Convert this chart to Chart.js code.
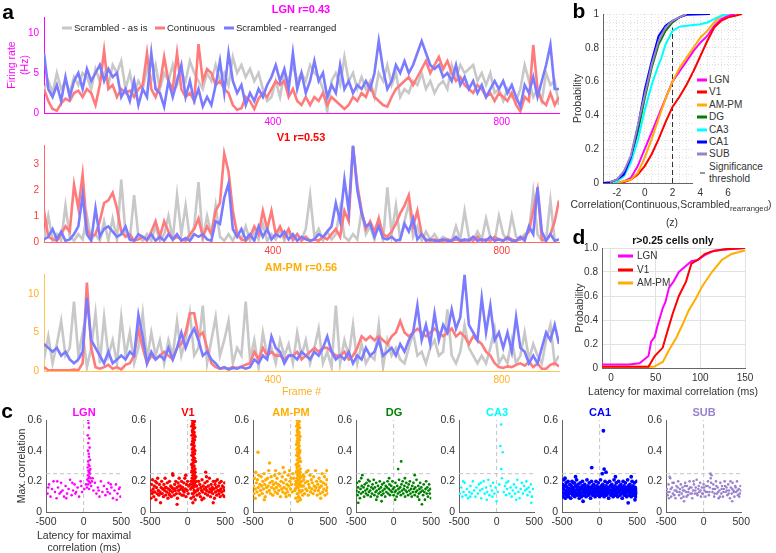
<!DOCTYPE html>
<html>
<head>
<meta charset="utf-8">
<script src="https://cdn.jsdelivr.net/npm/chart.js@4.4.1/dist/chart.umd.min.js"></script>
<style>
body { margin: 0; background: #fff; }
#fig { position: relative; width: 776px; height: 553px; overflow: hidden; background: #fff;
  font-family: "Liberation Sans", Arial, sans-serif; color: #333; }
#fig canvas { position: absolute; }
.t { position: absolute; white-space: nowrap; line-height: 1; transform: translate(-50%, -50%); }
.tl { position: absolute; white-space: nowrap; line-height: 1; transform: translate(0, -50%); }
.sw { position: absolute; transform: translate(0, -50%); }
sub { font-size: 0.75em; vertical-align: -0.45em; line-height: 0; }
</style>
</head>
<body>
<div id="fig"></div>
<script>
// ---- panel a : firing rate traces (one value every frameStep frames) ----
const frameStep = 7.5
const frameMax = 900
const frameTicks = [400, 800]
const traceNames = ['Scrambled - as is', 'Continuous', 'Scrambled - rearranged']

const lgnScrambled = [3,4,2.5,5,3,4,2.5,4.5,3.5,5, 4.5,3,5.5,4,5,3.5,6,5,6.5,3, 5,2.5,4,3,5.5,4,6,3,5,4,
  6,3.5,5,4,6.5,5,4,3,5,4, 6,4,5,3.5,7,5,6,4.5,5.5,4, 5,3,1.5,2,4,2,5,4,6,4, 5,4,6,5,4.5,3,0.2,4,5,3.5,
  7,4,5,3,4.5,3,4,2,5,4, 6,3.5,5,2,3,2.5,4,3.5,5,3, 4,2.5,3.5,4,3,6,4.5,6,5,5.5, 6,4,5,3.5,5,2.5,3,1.5,3,2,
  1.5,3,6,4,2,3,1.5,5,3.5,4, 1]
const lgnContinuous = [3,1.5,0.5,0.3,1.2,1.8,1.5,2.5,2.8,2, 3,2.5,1,3.5,7.8,3,3.5,2,3,2.5, 2.8,2,3,3.5,7.5,3,2,3.5,7,4,
  3,7.5,3,2,2.5,1.5,8.6,4,5.5,5, 3.5,4,3,2.5,1,0.4,0.6,2,1.5,0.5, 1.8,2.5,2,3,4,3.5,4,2,3,1.5, 1,2,1,2,1.5,2.5,1,2,1.5,1,
  0.5,1,2,1.5,2.5,2,3.5,2,1.5,1, 0.8,2,3,3.5,4,4.5,3.5,4.5,5.5,6.5, 5,6,7,5.5,6.5,5,4,4.5,3.5,3, 2.5,3.5,3,2,2.5,1.5,2.5,2,1.5,2.5,
  1,0.2,2,1.5,8.5,3,1.5,1,2.5,1, 2]
const lgnRearranged = [7.5,3,2,3.5,1.5,4.5,2,4,5,3, 5.5,4,5,6,4,5.5,4.5,5,2,3, 1.5,4,1,3,2,7.5,3,2.5,0.8,4,
  2,4,6,2,4,1.5,3,0.8,2,1, 3.5,6.5,2.5,7.5,4,2.5,3.5,1,2.5,1.5, 3,2,3.5,4.5,6,4,5.5,3,7.5,3, 5,2.5,4,6.5,4,5,2,3.5,2.5,6,
  3,4,2.5,3.5,3,4,3,5,9,5.5, 3,4,6,5,6.5,5,6,7.5,9,7.5, 6,5.5,6,4.5,5,4,6,3.5,4.5,3, 4,2.5,3.5,2,3,4,3,4,2.5,3.5,
  2,0.8,3.5,2.5,4.5,2,4,6,8.5,3, 3]

const v1Scrambled = [0.1,1,0.05,0.3,0.05,1.4,0.2,0.05,0.3,0.1, 1,0.1,0.3,0.05,0.8,0.05,0.9,0.1,2.4,0.3,
  0.1,1.8,0.2,0.05,0.3,0.05,0.6,0.05,0.3,1, 0.1,1.8,0.3,1.4,0.1,0.6,2.3,0.1,1,0.3, 1.4,0.2,0.05,0.3,0.05,0.4,0.1,0.6,0.05,0.4,
  0.1,0.7,0.05,0.3,0.1,0.5,0.05,0.4,0.05,0.3, 0.1,0.5,1.8,0.2,0.5,0.05,0.4,0.1,0.3,1.3, 0.2,0.05,0.3,0.1,1.2,0.3,0.6,0.1,0.9,0.05,
  2.1,0.3,1.4,0.1,0.8,1.5,0.2,0.6,0.05,0.4, 0.1,0.3,0.05,0.2,0.1,0.05,0.6,0.1,1.2,0.2, 0.05,0.4,0.1,0.9,0.2,0.05,1,0.3,0.05,1,
  0.2,0.1,0.3,0.4,1.9,0.3,0.05,0.1,1.6,0.05, 0.1]
const v1Continuous = [1.2,0.2,0.1,0.05,0.3,0.6,0.4,2.2,1.3,2.6, 0.5,0.2,0.3,0.8,1.5,1.6,1.9,1.3,0.4,0.2,
  0.3,0.05,0.1,0.2,0.05,0.4,0.8,0.2,0.8,0.4, 0.1,0.2,0.1,0.05,0.3,0.5,0.9,0.2,0.6,0.3, 1.2,1.5,3.4,2.7,1.2,0.3,0.1,0.05,0.2,0.6,
  0.3,1.2,0.5,1.2,0.3,0.6,0.2,0.5,0.1,0.3, 0.05,0.2,0.05,0.1,0.05,0.2,0.1,0.3,0.5,0.2, 1.2,0.8,3.7,2.2,1.2,0.5,0.8,0.4,0.9,0.3,
  0.2,0.4,0.7,1.1,1.4,1.8,0.6,1.2,0.3,0.1, 0.05,0.1,0.05,0.05,0.1,0.05,0.1,0.05,0.05,0.1, 0.05,0.2,0.05,0.1,0.05,0.2,0.1,0.05,0.2,0.1,
  0.05,0.1,0.2,0.4,1.2,2,0.1,0.05,0.3,0.8, 1.6]
const v1Rearranged = [0.1,0.2,0.5,0.1,0.4,0.05,0.1,0.3,0.6,1.8, 0.3,0.05,1.3,0.2,0.5,0.6,0.4,0.2,0.3,0.6,
  0.1,0.05,0.3,0.2,0.1,0.3,0.05,0.2,0.05,0.3, 0.1,0.3,0.05,0.15,0.05,0.3,0.2,0.3,0.1,0.05, 0.8,0.7,1.7,2.25,0.5,0.2,0.5,0.1,0.3,0.05,
  0.6,0.2,0.5,0.1,0.3,0.2,0.4,0.1,0.3,0.05, 0.2,0.1,0.05,0.1,0.3,0.2,0.4,0.6,1.5,0.8, 2.4,1.2,3.7,2,1.1,0.6,0.7,0.2,0.6,0.15,
  0.1,0.2,0.05,0.1,0.7,0.4,0.9,0.1,0.3,0.05, 0.1,0.05,0.05,0.1,0.05,0.05,0.2,0.05,0.1,0.05, 0.2,0.05,0.1,0.05,0.2,0.05,0.1,0.05,0.15,0.05,
  0.05,0.2,0.05,0.6,0.3,2.1,0.4,0.05,0.3,0.05, 0.1]

const ampmScrambled = [1.5,4.5,1,3.5,6.5,2,3,9,2,5, 0.5,3,7.5,1,7,2,4,1,7,2, 5,1,3,7.5,1.5,5,2,4,1,4,
  2,6.5,2,4,7.5,2,3,8.5,1,4, 7,2,4,6.5,1,3,2,9,1.5,4, 0.5,5,2,3,1,4,2,3.5,1,5, 2,4,1,3,5.5,1,2.5,0.5,8.5,1,
  4,2,6,1,3.5,1,2,1.5,6,0.5, 4,2,3,1.5,1,3,5,2,2.5,1, 3,4,2,2.5,8,2,1,2.5,6,3, 2,1,2,1,3,5.5,1,2,1,4,
  1,2,5,1.5,3.5,2,1,4,6,1, 2]
const ampmContinuous = [0.5,0.1,0.1,0.1,0.1,0.1,0.1,0.2,0.1,1, 11.5,3,0.5,0.3,0.5,0.8,0.3,0.5,0.2,0.8,
  1,2,5.5,3,1,2,1.5,2,2.5,2, 1.5,3,3.5,5,7.5,7.5,4.5,5,3,1, 0.5,0.3,0.4,0.3,0.5,0.4,0.6,0.8,1,2.5,
  1.5,3,2,2.5,2,2,1.5,2,2,2.5, 1.5,2,2.5,3,2.5,3,3,2.5,2,2, 2.5,1.5,2,3,4.5,4,4.5,4,4.5,4, 3.5,4.5,5,6.5,5,4.5,5,5.5,5,4.5,
  5,5.5,5,4.5,5,5.5,4.5,5,4.5,3.5, 4.5,4,3.5,2.5,2,1,0.5,0.4,0.6,0.5, 0.8,1,0.7,1.2,0.5,1,0.3,0.3,0.8,1, 0.6]
const ampmRearranged = [3.5,3,2.5,3,2,2.5,1.5,1,1.5,2.5, 9.5,4,3,2,1,2.5,1,1.5,2,1.5, 2.5,2,7.3,4.5,1,2.5,1.5,2,1.5,3,
  1.5,3,5,3,4.5,5.5,4,2,2.5,1.5, 1,0.3,0.5,0.2,0.4,0.3,0.5,0.3,0.5,1.5, 1,2,1.5,4.5,3,2.5,1,2,2,1.5, 2.5,2,1.5,2.5,2,3,4.5,2.5,1.5,2,
  1.5,2.5,1,2,1.5,3,2,2.5,4,2, 2.5,3,2,3.5,2.5,4,5,8.5,4,6, 3.5,7.5,4,6,5,8,5.5,7,12.5,6, 5,4,9.5,5,8.5,4,5,3,5,2.5,
  7,3,2.5,1,2,1,3,5,4,6, 3.5]

// ---- panel b : CDF of z-scored correlation, [z, probability] ----
const bRegions = ['LGN', 'V1', 'AM-PM', 'DG', 'CA3', 'CA1', 'SUB']
const cdfLGN = [[-2,0],[-1.5,0.01],[-1,0.03],[-0.5,0.1],[0,0.2],[0.5,0.3],[1,0.4],[1.5,0.5],[2,0.6],[2.5,0.66],[3,0.72],[3.5,0.78],[4,0.83],[4.5,0.87],[5,0.93],[5.5,0.97],[6,0.99],[6.5,1]]
const cdfV1 = [[-2,0],[-1.5,0.005],[-1,0.02],[-0.5,0.05],[0,0.1],[0.5,0.17],[1,0.26],[1.5,0.36],[2,0.45],[2.5,0.51],[3,0.58],[3.5,0.66],[4,0.75],[4.5,0.84],[5,0.92],[5.5,0.96],[6,0.98],[6.5,0.99],[7,1]]
const cdfAMPM = [[-2,0],[-1.5,0.01],[-1,0.02],[-0.5,0.06],[0,0.15],[0.5,0.26],[1,0.38],[1.5,0.5],[2,0.6],[2.5,0.68],[3,0.74],[3.5,0.8],[4,0.86],[4.5,0.9],[5,0.95],[5.5,0.99],[6,1]]
const cdfDG = [[-2.5,0],[-2,0.02],[-1.5,0.06],[-1,0.15],[-0.5,0.3],[0,0.5],[0.5,0.68],[1,0.82],[1.5,0.9],[2,0.95],[2.5,0.98],[3,1]]
const cdfCA3 = [[-2.2,0],[-2,0.01],[-1.5,0.04],[-1,0.12],[-0.5,0.25],[0,0.43],[0.5,0.58],[1,0.7],[1.2,0.74],[1.5,0.82],[2,0.9],[2.5,0.925],[3,0.93],[4,0.94],[4.5,0.95],[5,0.97],[5.5,0.99],[6,1]]
const cdfCA1 = [[-3,0],[-2.5,0.005],[-2,0.02],[-1.5,0.05],[-1,0.15],[-0.5,0.33],[0,0.55],[0.5,0.72],[1,0.87],[1.5,0.93],[2,0.96],[2.5,0.98],[3,0.995],[4.7,1]]
const cdfSUB = [[-2.5,0.005],[-2,0.02],[-1.5,0.07],[-1,0.16],[-0.5,0.34],[0,0.52],[0.5,0.7],[1,0.84],[1.5,0.92],[2,0.96],[2.5,0.98],[3,1]]
const sigThreshold = [[2,0],[2,0.92]]
const bMajorX = [-2, 0, 2, 4, 6]

// ---- panel d : CDF of latency, [ms, probability] ----
const dRegions = ['LGN', 'V1', 'AM-PM']
const latLGN = [[-10,0.03],[20,0.03],[32,0.04],[42,0.1],[45,0.22],[49,0.26],[52,0.35],[58,0.5],[61,0.55],[65,0.67],[70,0.72],[76,0.8],[87,0.87],[90,0.89],[97,0.9],[105,0.94],[116,0.98],[150,1]]
const latV1 = [[-10,0.01],[42,0.01],[49,0.1],[58,0.17],[61,0.25],[69,0.45],[76,0.6],[84,0.72],[90,0.87],[97,0.9],[105,0.95],[112,0.97],[127,0.99],[150,1]]
const latAMPM = [[-10,0.01],[48,0.01],[58,0.05],[65,0.15],[73,0.25],[80,0.36],[87,0.48],[95,0.58],[102,0.68],[113,0.8],[124,0.9],[135,0.95],[150,0.98]]
const dTicksX = [0, 50, 100, 150]

// ---- panel c : max correlation vs latency, [ms, r] ----
const cThreshold = 0.25
const lgnDots = [[-480,.12],[-460,.18],[-440,.1],[-420,.15],[-400,.2],[-380,.13],[-360,.09],[-340,.16],[-320,.12],[-300,.19],
  [-280,.14],[-260,.1],[-240,.17],[-220,.12],[-200,.15],[-180,.21],[-160,.11],[-140,.14],[-120,.18],[-100,.13],[-80,.16],[-60,.1],
  [-40,.2],[-20,.13],[10,.15],[30,.18],[130,.14],[150,.19],[170,.12],[190,.16],[210,.1],[230,.2],[250,.13],[270,.17],[290,.11],
  [310,.15],[330,.19],[350,.12],[370,.16],[390,.09],[410,.14],[430,.18],[450,.12],[470,.15],[490,.1],[-470,.16],[-350,.2],[-230,.09],
  [-110,.12],[-30,.17],[200,.14],[320,.13],[440,.08],[360,.18],[-300,.13],[-150,.19],[120,.22],[480,.16],
  [60,.6],[65,.58],[70,.55],[55,.5],[75,.48],[62,.45],[80,.42],[58,.4],[68,.38],[72,.36],[85,.34],[60,.33],[66,.31],[78,.3],[54,.29],
  [90,.28],[63,.27],[70,.26],[82,.25],[57,.24],[75,.23],[95,.22],[50,.21],[68,.2],[88,.19],[60,.18],[100,.17],[45,.16],[73,.15],
  [110,.2],[65,.22],[80,.27]]
const v1Dots = [[-495,.14],[-488,.09],[-480,.18],[-472,.12],[-466,.21],[-458,.15],[-450,.1],[-443,.17],[-436,.13],[-428,.2],[-421,.08],
  [-414,.16],[-405,.12],[-398,.22],[-390,.14],[-383,.11],[-375,.18],[-368,.13],[-360,.06],[-352,.16],[-345,.2],[-337,.12],[-330,.15],
  [-322,.1],[-315,.18],[-307,.14],[-300,.22],[-292,.11],[-285,.16],[-277,.13],[-270,.19],[-262,.09],[-255,.15],[-247,.12],[-240,.2],
  [-232,.14],[-225,.17],[-217,.1],[-210,.16],[-202,.13],[-195,.24],[-187,.15],[-180,.11],[-172,.18],[-165,.14],[-157,.2],[-150,.12],
  [-142,.16],[-135,.09],[-127,.19],[-120,.14],[-112,.22],[-105,.12],[-97,.17],[-90,.15],[-82,.2],[-75,.11],[-67,.16],[-60,.14],
  [-52,.19],[-45,.13],[-37,.22],[-30,.15],[-22,.1],[-15,.18],[-7,.14],[0,.2],[8,.12],[15,.17],[140,.15],[147,.2],[155,.12],[162,.18],
  [170,.1],[177,.16],[185,.14],[192,.21],[200,.13],[207,.17],[215,.09],[222,.15],[230,.19],[237,.12],[245,.16],[252,.14],[260,.2],
  [267,.11],[275,.17],[282,.13],[290,.22],[297,.15],[305,.1],[312,.18],[320,.14],[327,.16],[335,.12],[342,.2],[350,.15],[357,.09],
  [365,.18],[372,.13],[380,.16],[387,.11],[395,.21],[402,.14],[410,.17],[417,.12],[425,.19],[432,.1],[440,.15],[447,.2],[455,.13],
  [462,.17],[470,.11],[477,.16],[485,.14],[492,.19],[-462,.13],[-410,.19],[-356,.12],[-296,.16],[-236,.11],[-176,.15],[-116,.17],
  [-56,.11],[-26,.24],[190,.08],[250,.23],[310,.13],[370,.2],[430,.14],[490,.1],[-200,.25],[-140,.05],[340,.06],[240,.26],
  [60,.6],[75,.6],[90,.59],[68,.58],[82,.57],[55,.56],[95,.55],[72,.54],[63,.53],[86,.52],[78,.51],[58,.5],[100,.49],[70,.48],[92,.47],
  [65,.46],[80,.45],[55,.44],[88,.43],[74,.42],[62,.41],[97,.4],[68,.39],[84,.38],[58,.37],[76,.36],[93,.35],[66,.34],[105,.33],
  [72,.32],[52,.31],[86,.3],[64,.29],[98,.28],[78,.27],[56,.26],[90,.25],[70,.24],[110,.23],[60,.22],[82,.21],[48,.2],[95,.19],
  [66,.18],[118,.17],[74,.16],[40,.15],[88,.14],[102,.13],[62,.12],[125,.11],[79,.1],[45,.09],[100,.08],[70,.06],[85,.35],[65,.44],
  [90,.5],[75,.3],[60,.27],[80,.24],[95,.22],[70,.2],[85,.18],[55,.16],[105,.17],[130,.14],[35,.18],[115,.2],[75,.12],[92,.38],
  [83,.41],[71,.57],[88,.33],[64,.37],[99,.26],[57,.2],[76,.47],[69,.52],[81,.55]]
const ampmDots = [[-495,.17],[-487,.12],[-480,.22],[-471,.15],[-463,.26],[-455,.19],[-447,.13],[-440,.21],[-432,.16],[-424,.24],
  [-416,.11],[-408,.18],[-400,.14],[-392,.23],[-384,.17],[-377,.12],[-369,.2],[-361,.15],[-353,.25],[-345,.18],[-338,.1],[-330,.21],
  [-322,.16],[-314,.13],[-306,.22],[-299,.17],[-291,.27],[-283,.14],[-275,.19],[-267,.12],[-259,.23],[-252,.16],[-244,.2],[-236,.11],
  [-228,.18],[-220,.15],[-213,.24],[-205,.13],[-197,.19],[-189,.16],[-181,.22],[-174,.12],[-166,.18],[-158,.14],[-150,.25],[-142,.17],
  [-135,.1],[-127,.2],[-119,.15],[-111,.23],[-103,.13],[-96,.19],[-88,.16],[-80,.26],[-72,.12],[-64,.21],[-57,.15],[-49,.18],[-41,.13],
  [-33,.24],[-25,.17],[-18,.11],[-10,.2],[-2,.15],[6,.22],[14,.18],[22,.13],[30,.25],[170,.17],[178,.23],[186,.12],[194,.19],[202,.15],
  [210,.26],[218,.14],[226,.2],[234,.11],[242,.18],[250,.16],[258,.24],[266,.13],[274,.21],[282,.15],[290,.19],[298,.12],[306,.23],
  [314,.17],[322,.14],[330,.27],[338,.16],[346,.2],[354,.11],[362,.18],[370,.14],[378,.22],[386,.16],[394,.12],[402,.2],[410,.17],
  [418,.25],[426,.13],[434,.19],[442,.15],[450,.23],[458,.11],[466,.18],[474,.14],[482,.21],[490,.16],[497,.12],[-434,.39],[-280,.32],
  [-100,.29],[480,.27],[-470,.09],[-350,.08],[-200,.27],[-60,.1],[230,.27],[400,.09],[120,.09],[-15,.27],
  [85,.6],[100,.6],[115,.59],[92,.58],[108,.57],[80,.56],[120,.55],[96,.54],[88,.53],[112,.52],[104,.51],[82,.5],[126,.49],[94,.48],
  [118,.47],[86,.46],[106,.45],[78,.44],[114,.43],[98,.42],[84,.41],[124,.4],[92,.39],[110,.38],[80,.37],[102,.36],[120,.35],[88,.34],
  [132,.33],[96,.32],[74,.31],[112,.3],[86,.29],[128,.28],[104,.27],[78,.26],[118,.25],[94,.24],[140,.23],[84,.22],[108,.21],[70,.2],
  [124,.19],[90,.18],[150,.17],[100,.16],[62,.15],[116,.14],[134,.13],[86,.12],[160,.11],[104,.1],[70,.09],[130,.08],[95,.07],
  [110,.36],[90,.44],[115,.5],[100,.3],[85,.27],[105,.24],[122,.22],[95,.2],[112,.18],[80,.16],[135,.17],[155,.14],[65,.18],[145,.2],
  [98,.12],[118,.39],[108,.41],[96,.57],[114,.33],[89,.37],[126,.26],[82,.2],[102,.47],[93,.52],[106,.55],[40,.22],[55,.14],[175,.21],[165,.24]]
const dgDots = [[-495,.14],[-488,.19],[-480,.11],[-472,.16],[-464,.13],[-456,.2],[-448,.09],[-440,.15],[-432,.12],[-424,.17],[-416,.24],
  [-408,.13],[-400,.16],[-392,.1],[-384,.18],[-376,.14],[-368,.12],[-360,.19],[-352,.15],[-344,.11],[-336,.17],[-328,.13],[-320,.2],
  [-312,.14],[-304,.1],[-296,.16],[-288,.12],[-280,.18],[-272,.15],[-264,.21],[-256,.11],[-248,.16],[-240,.13],[-232,.19],[-224,.14],
  [-216,.1],[-208,.17],[-200,.12],[-192,.15],[-184,.2],[-176,.13],[-168,.16],[-160,.11],[-152,.18],[-144,.14],[-136,.12],[-128,.19],
  [-120,.15],[-112,.1],[-104,.17],[-96,.13],[-88,.16],[-80,.2],[-72,.12],[-64,.15],[-56,.18],[-48,.11],[-40,.14],[-32,.17],[-24,.13],
  [-16,.2],[-8,.15],[0,.11],[8,.16],[16,.13],[24,.19],[32,.14],[40,.1],[48,.17],[56,.12],[64,.15],[72,.21],[80,.13],[88,.16],[96,.11],
  [104,.18],[112,.14],[120,.2],[128,.12],[136,.15],[144,.17],[152,.1],[160,.14],[168,.19],[176,.13],[184,.16],[192,.11],[200,.18],
  [208,.14],[216,.2],[224,.12],[232,.15],[240,.1],[248,.17],[256,.13],[264,.19],[272,.15],[280,.11],[288,.16],[296,.13],[304,.21],
  [312,.14],[320,.1],[328,.17],[336,.12],[344,.15],[352,.19],[360,.13],[368,.16],[376,.05],[384,.14],[392,.11],[400,.18],[408,.13],
  [416,.08],[424,.15],[432,.2],[440,.12],[448,.16],[456,.1],[464,.14],[472,.18],[480,.12],[488,.15],[496,.09],[-470,.06],[-340,.21],
  [-160,.07],[-60,.22],[100,.33],[60,.28],[280,.24],[-230,.08],[150,.22],[340,.08],[-430,.22],[20,.08]]
const ca3Dots = [[-490,.12],[-470,.16],[-455,.1],[-440,.13],[-425,.19],[-410,.11],[-395,.15],[-380,.09],[-362,.13],[-348,.17],[-330,.12],
  [-315,.2],[-300,.14],[-282,.1],[-268,.16],[-250,.12],[-236,.18],[-220,.14],[-205,.09],[-190,.15],[-172,.2],[-158,.12],[-140,.16],
  [-125,.13],[-110,.21],[-95,.11],[-80,.17],[-62,.14],[-48,.19],[-30,.12],[-15,.16],[0,.07],[15,.13],[35,.18],[50,.43],[60,.57],[62,.28],
  [80,.39],[70,.22],[95,.13],[110,.17],[125,.11],[140,.15],[155,.2],[170,.12],[185,.16],[200,.1],[215,.14],[230,.18],[245,.12],[260,.16],
  [275,.21],[290,.13],[305,.09],[320,.15],[335,.19],[350,.12],[365,.17],[380,.14],[395,.2],[410,.11],[425,.16],[440,.13],[455,.18],
  [470,.1],[485,.15],[-445,.2],[-350,.1],[-210,.19],[-130,.08],[-55,.1],[130,.19],[260,.08],[400,.15],[460,.06]]
const ca1Dots = [[-498,.13],[-492,.18],[-486,.1],[-480,.15],[-474,.21],[-468,.12],[-462,.17],[-456,.09],[-450,.14],[-444,.19],[-438,.11],
  [-432,.16],[-426,.13],[-420,.2],[-414,.1],[-408,.15],[-402,.12],[-396,.18],[-390,.14],[-384,.09],[-378,.17],[-372,.12],[-366,.2],
  [-360,.15],[-354,.11],[-348,.16],[-342,.13],[-336,.19],[-330,.1],[-324,.14],[-318,.17],[-312,.12],[-306,.21],[-300,.15],[-294,.11],
  [-288,.18],[-282,.13],[-276,.16],[-270,.09],[-264,.14],[-258,.19],[-252,.12],[-246,.16],[-240,.1],[-234,.15],[-228,.2],[-222,.13],
  [-216,.17],[-210,.11],[-204,.14],[-198,.18],[-192,.12],[-186,.16],[-180,.1],[-174,.15],[-168,.21],[-162,.13],[-156,.17],[-150,.11],
  [-144,.14],[-138,.19],[-132,.12],[-126,.16],[-120,.09],[-114,.15],[-108,.2],[-102,.13],[-96,.17],[-90,.11],[-84,.14],[-78,.18],
  [-72,.12],[-66,.16],[-60,.1],[-54,.15],[-48,.2],[-42,.13],[-36,.17],[-30,.11],[-24,.14],[-18,.19],[-12,.12],[-6,.16],[0,.1],[6,.15],
  [12,.21],[18,.13],[24,.17],[30,.11],[36,.14],[42,.18],[48,.12],[54,.16],[60,.1],[66,.15],[72,.2],[78,.13],[84,.17],[90,.11],[96,.14],
  [102,.19],[108,.12],[114,.16],[120,.09],[126,.15],[132,.2],[138,.13],[144,.17],[150,.11],[156,.14],[162,.18],[168,.12],[174,.16],
  [180,.1],[186,.15],[192,.21],[198,.13],[204,.17],[210,.11],[216,.14],[222,.19],[228,.12],[234,.16],[240,.1],[246,.15],[252,.2],
  [258,.13],[264,.17],[270,.11],[276,.14],[282,.18],[288,.12],[294,.16],[300,.09],[306,.15],[312,.2],[318,.13],[324,.17],[330,.11],
  [336,.14],[342,.19],[348,.12],[354,.16],[360,.1],[366,.15],[372,.21],[378,.13],[384,.17],[390,.11],[396,.14],[402,.18],[408,.12],
  [414,.16],[420,.1],[426,.15],[432,.2],[438,.13],[444,.17],[450,.11],[456,.14],[462,.19],[468,.12],[474,.16],[480,.1],[486,.15],
  [492,.2],[498,.13],[-495,.16],[-471,.12],[-447,.17],[-423,.13],[-399,.15],[-375,.14],[-351,.19],[-327,.12],[-303,.17],[-279,.14],
  [-255,.11],[-231,.17],[-207,.15],[-183,.13],[-159,.16],[-135,.14],[-111,.12],[-87,.16],[-63,.13],[-39,.15],[-15,.14],[9,.12],[33,.16],
  [57,.14],[81,.12],[105,.16],[129,.13],[153,.17],[177,.14],[201,.12],[225,.15],[249,.13],[273,.16],[297,.14],[321,.12],[345,.15],
  [369,.14],[393,.16],[417,.13],[441,.15],[465,.14],[489,.12],[50,.53],[-105,.29],[60,.28],[35,.25],[85,.26],[-320,.23],[210,.23],
  [420,.23],[-460,.22],[470,.08],[380,.06],[-220,.07]]
const subDots = [[-490,.15],[-478,.11],[-466,.18],[-455,.13],[-443,.22],[-431,.1],[-420,.16],[-408,.12],[-396,.19],[-385,.14],[-373,.09],
  [-361,.17],[-350,.13],[-338,.2],[-326,.11],[-315,.15],[-303,.18],[-291,.12],[-280,.16],[-268,.1],[-256,.14],[-245,.19],[-233,.13],
  [-221,.17],[-210,.11],[-198,.15],[-186,.2],[-175,.12],[-163,.16],[-151,.09],[-140,.14],[-128,.18],[-116,.12],[-105,.16],[-93,.21],
  [-81,.11],[-70,.15],[-58,.13],[-46,.19],[-35,.1],[-23,.16],[-11,.12],[0,.18],[12,.14],[24,.1],[35,.17],[47,.13],[59,.2],[70,.11],
  [82,.16],[94,.22],[105,.24],[117,.13],[129,.18],[140,.1],[152,.15],[164,.2],[175,.12],[187,.16],[199,.09],[210,.14],[222,.19],
  [234,.12],[245,.17],[257,.1],[269,.15],[280,.2],[292,.13],[304,.16],[315,.11],[327,.18],[339,.14],[350,.09],[362,.16],[374,.12],
  [385,.19],[397,.14],[409,.1],[420,.17],[432,.13],[444,.2],[455,.11],[467,.15],[479,.12],[490,.17],[-484,.13],[-460,.09],[-437,.15],
  [-414,.19],[-390,.11],[-367,.14],[-344,.16],[-320,.13],[-297,.09],[-274,.14],[-250,.17],[-227,.1],[-204,.13],[-180,.16],[-157,.12],
  [-134,.2],[-110,.14],[-87,.12],[-64,.17],[-40,.14],[-17,.12],[6,.16],[30,.13],[53,.17],[76,.13],[100,.19],[123,.15],[146,.12],
  [170,.17],[193,.13],[216,.1],[240,.15],[263,.13],[286,.17],[310,.14],[333,.12],[356,.2],[380,.15],[403,.13],[426,.16],[450,.14],
  [473,.1],[496,.14],[-452,.23],[90,.25],[-260,.07],[380,.07]]

// ---- colours ----
const grayCol = '#c8c8c8', redCol = '#ff7b7b', blueCol = '#7b7bff'
const regionCol = { 'LGN': '#ff00ff', 'V1': '#ff0000', 'AM-PM': '#ffad00', 'DG': '#008000', 'CA3': '#00ffff', 'CA1': '#0000ff', 'SUB': '#9a82cc' }

Chart.defaults.font.family = '"Liberation Sans", Arial, sans-serif'
Chart.defaults.font.size = 10
Chart.defaults.color = '#333'

const fig = document.getElementById('fig')

function makeCanvas(left, top, w, h) {
	const c = document.createElement('canvas')
	c.width = w; c.height = h
	c.style.left = left + 'px'; c.style.top = top + 'px'
	c.style.width = w + 'px'; c.style.height = h + 'px'
	fig.appendChild(c)
	return c
}

function text(html, x, y, style, cls) {
	const d = document.createElement('div')
	d.className = cls || 't'
	d.innerHTML = html
	d.style.left = x + 'px'; d.style.top = y + 'px'
	Object.assign(d.style, style || {})
	fig.appendChild(d)
	return d
}

function swatch(x, y, w, h, color, extra) {
	const d = document.createElement('div')
	d.className = 'sw'
	d.style.cssText += `left:${x}px;top:${y}px;width:${w}px;height:${h}px;background:${color};` + (extra || '')
	fig.appendChild(d)
}

const toXY = arr => arr.map(p => ({ x: p[0], y: p[1] }))
const baseOpts = { animation: false, responsive: false, events: [], plugins: { legend: { display: false }, tooltip: { enabled: false } } }

// ---------- panel a ----------
function traceChart(box, values, yMax, yTicks, axisCol, tickCol, xTitle) {
	const cv = makeCanvas(box.left, box.top, box.w, box.h)
	const cols = [grayCol, redCol, blueCol]
	new Chart(cv, {
		type: 'line',
		data: {
			datasets: values.map((vals, k) => ({
				label: traceNames[k],
				data: vals.map((v, i) => ({ x: i * frameStep, y: v })),
				borderColor: cols[k], borderWidth: 2.6, pointRadius: 0, tension: 0, order: 2 - k
			}))
		},
		options: {
			...baseOpts,
			layout: { padding: { top: box.pt, right: box.pr, left: 0, bottom: 0 } },
			scales: {
				x: {
					type: 'linear', min: 0, max: frameMax,
					afterBuildTicks: s => { s.ticks = frameTicks.map(v => ({ value: v })) },
					afterFit: s => { s.height = box.xh },
					grid: { display: false, drawTicks: false },
					border: { color: axisCol, width: 1 },
					ticks: { color: tickCol, padding: 3, font: { size: 10 }, maxRotation: 0, autoSkip: false },
					title: xTitle ? { display: true, text: xTitle, color: tickCol, font: { size: 10.5 }, padding: 0 } : { display: false }
				},
				y: {
					min: 0, max: yMax,
					afterBuildTicks: s => { s.ticks = yTicks.map(v => ({ value: v })) },
					afterFit: s => { s.width = 44 },
					grid: { display: false, drawTicks: false },
					border: { color: axisCol, width: 1 },
					ticks: { color: tickCol, padding: 5, font: { size: 10 } },
					title: box.yTitle ? { display: true, text: box.yTitle, color: tickCol, font: { size: 10.5 }, padding: { top: 6, bottom: 0 } } : { display: false }
				}
			}
		}
	})
}

traceChart({ left: 0, top: 0, w: 565, h: 128, pt: 17, pr: 6, xh: 15, yTitle: ['Firing rate', '(Hz)'] },
	[lgnScrambled, lgnContinuous, lgnRearranged], 12, [0, 5, 10], '#ff00ff', '#ff00ff')
traceChart({ left: 0, top: 130, w: 565, h: 127, pt: 15, pr: 6, xh: 15 },
	[v1Scrambled, v1Continuous, v1Rearranged], 3.73, [0, 1, 2, 3], '#ff6666', '#ff3b3b')
traceChart({ left: 0, top: 255, w: 565, h: 143, pt: 19, pr: 6, xh: 27 },
	[ampmScrambled, ampmContinuous, ampmRearranged], 12.6, [0, 5, 10], '#ffc54d', '#ffb020', 'Frame #')

text('a', 8, 11, { fontSize: '21px', fontWeight: 'bold', color: '#000' })
text('LGN r=0.43', 301, 9, { fontSize: '11px', fontWeight: 'bold', color: '#ff00ff' })
text('V1 r=0.53', 301, 137, { fontSize: '11px', fontWeight: 'bold', color: '#ff0000' })
text('AM-PM r=0.56', 301, 267, { fontSize: '11px', fontWeight: 'bold', color: '#ffad00' })

// legend of panel a
const legX = [62, 155, 224]
const legCols = [grayCol, redCol, blueCol]
traceNames.forEach((name, k) => {
	swatch(legX[k], 28, 10, 3, legCols[k])
	text(name, legX[k] + 12, 28, { fontSize: '9.5px', color: '#222' }, 'tl')
})

// ---------- panel b ----------
const bData = [cdfLGN, cdfV1, cdfAMPM, cdfDG, cdfCA3, cdfCA1, cdfSUB]
{
	const cv = makeCanvas(565, 0, 211, 201)
	const xs = [], ys = []
	for (let k = 0; k <= 20; k++) xs.push(-3 + k * 0.5)
	for (let k = 0; k <= 20; k++) ys.push(k / 20)
	const gridStyle = { color: '#dedede', drawTicks: false }
	new Chart(cv, {
		type: 'scatter',
		data: {
			datasets: bData.map((d, k) => ({
				label: bRegions[k], data: toXY(d), showLine: true, borderColor: regionCol[bRegions[k]],
				borderWidth: 2, pointRadius: 0, tension: 0, order: 6 - k
			})).concat([{
				label: 'Significance threshold', data: toXY(sigThreshold), showLine: true, borderColor: '#333',
				borderWidth: 1, borderDash: [5, 3], pointRadius: 0, order: 7
			}])
		},
		options: {
			...baseOpts,
			layout: { padding: { top: 14, right: 34, left: 0, bottom: 0 } },
			scales: {
				x: {
					type: 'linear', min: -3, max: 7,
					afterBuildTicks: s => { s.ticks = xs.map(v => ({ value: v })) },
					afterFit: s => { s.height = 18 },
					grid: gridStyle, border: { color: '#666', dash: [1, 2] },
					ticks: { autoSkip: false, maxRotation: 0, padding: 4, color: '#333', callback: v => bMajorX.includes(v) ? String(v) : '' }
				},
				y: {
					min: 0, max: 1,
					afterBuildTicks: s => { s.ticks = ys.map(v => ({ value: v })) },
					afterFit: s => { s.width = 38 },
					grid: gridStyle, border: { color: '#666', dash: [1, 2] },
					ticks: { autoSkip: false, padding: 4, color: '#333', callback: (v, i) => i % 4 === 0 ? String(Math.round(v * 10) / 10) : '' },
					title: { display: true, text: 'Probability', color: '#333', font: { size: 10.5 }, padding: { top: 7, bottom: 0 } }
				}
			}
		}
	})
}
text('b', 579, 10, { fontSize: '21px', fontWeight: 'bold', color: '#000' })
text('Correlation(Continuous,Scrambled<sub>rearranged</sub>)', 671, 205, { fontSize: '10.4px', color: '#333' })
text('(z)', 672, 222, { fontSize: '10.5px', color: '#333' })
// legend of panel b
const bLeg = document.createElement('div')
bLeg.style.cssText = 'position:absolute;left:693px;top:73px;width:83px;height:113px;background:#fff'
fig.appendChild(bLeg)
bRegions.forEach((name, k) => {
	const y = 80 + k * 12.4
	swatch(697, y, 10, 3, regionCol[name])
	text(name, 709, y, { fontSize: '10px', color: '#333' }, 'tl')
})
swatch(700, 173, 5, 1, '#333')
text('Significance', 709, 167, { fontSize: '10px', color: '#333' }, 'tl')
text('threshold', 709, 179, { fontSize: '10px', color: '#333' }, 'tl')

// ---------- panel d ----------
const dData = [latLGN, latV1, latAMPM]
{
	const cv = makeCanvas(565, 230, 211, 160)
	const gridStyle = { color: '#e2e2e2', drawTicks: false }
	new Chart(cv, {
		type: 'scatter',
		data: {
			datasets: dData.map((d, k) => ({
				label: dRegions[k], data: toXY(d), showLine: true, borderColor: regionCol[dRegions[k]],
				borderWidth: 2, pointRadius: 0, tension: 0, order: [1, 0, 2][k]
			}))
		},
		options: {
			...baseOpts,
			layout: { padding: { top: 18, right: 31, left: 0, bottom: 0 } },
			scales: {
				x: {
					type: 'linear', min: -10, max: 150,
					afterBuildTicks: s => { s.ticks = dTicksX.map(v => ({ value: v })) },
					afterFit: s => { s.height = 22 },
					grid: gridStyle, border: { color: '#666' },
					ticks: { autoSkip: false, maxRotation: 0, padding: 4, color: '#333' }
				},
				y: {
					min: 0, max: 1,
					afterBuildTicks: s => { s.ticks = [0, 0.2, 0.4, 0.6, 0.8, 1].map(v => ({ value: v })) },
					afterFit: s => { s.width = 37 },
					grid: gridStyle, border: { color: '#666' },
					ticks: { padding: 4, color: '#333' },
					title: { display: true, text: 'Probability', color: '#333', font: { size: 10.5 }, padding: { top: 9, bottom: 0 } }
				}
			}
		}
	})
}
text('d', 579, 236, { fontSize: '21px', fontWeight: 'bold', color: '#000' })
text('r&gt;0.25 cells only', 673, 240, { fontSize: '10.5px', fontWeight: 'bold', color: '#111' })
text('Latency for maximal correlation (ms)', 673, 391, { fontSize: '10.5px', color: '#333' })
dRegions.forEach((name, k) => {
	const y = 256 + k * 13.5
	swatch(618, y, 15, 3, regionCol[name])
	text(name, 637, y, { fontSize: '10px', color: '#333' }, 'tl')
})

// ---------- panel c ----------
const cRegions = ['LGN', 'V1', 'AM-PM', 'DG', 'CA3', 'CA1', 'SUB']
const cDots = [lgnDots, v1Dots, ampmDots, dgDots, ca3Dots, ca1Dots, subDots]
const cLefts = [46, 150, 253, 356, 459, 562, 666]
const cDotSize = [1.3, 1.7, 1.7, 1.4, 1.3, 1.9, 1.3]

function scatterChart(k) {
	const first = k === 0
	const yw = first ? 46 : 30, pw = 76, pr = 12, pt = 20, ph = 92, xh = 22
	const cv = makeCanvas(cLefts[k] - yw, 400, yw + pw + pr, pt + ph + xh)
	const refLine = { showLine: true, borderColor: '#c4c4c4', borderWidth: 1, borderDash: [4, 3], pointRadius: 0, order: 1 }
	new Chart(cv, {
		type: 'scatter',
		data: {
			datasets: [
				{ ...refLine, data: [{ x: 0, y: 0 }, { x: 0, y: 0.6 }] },
				{ ...refLine, data: [{ x: -500, y: cThreshold }, { x: 500, y: cThreshold }] },
				{ label: cRegions[k], data: toXY(cDots[k]), backgroundColor: regionCol[cRegions[k]], borderWidth: 0, pointRadius: cDotSize[k], order: 0 }
			]
		},
		options: {
			...baseOpts,
			layout: { padding: { top: pt, right: pr, left: 0, bottom: 0 } },
			scales: {
				x: {
					type: 'linear', min: -500, max: 500,
					afterBuildTicks: s => { s.ticks = [-500, 0, 500].map(v => ({ value: v })) },
					afterFit: s => { s.height = xh },
					grid: { display: false, drawTicks: false }, border: { color: '#666' },
					ticks: { autoSkip: false, maxRotation: 0, padding: 4, color: '#333', font: { size: 10.5 } }
				},
				y: {
					min: 0, max: 0.6,
					afterBuildTicks: s => { s.ticks = [0, 0.2, 0.4, 0.6].map(v => ({ value: v })) },
					afterFit: s => { s.width = yw },
					grid: { display: false, drawTicks: false }, border: { color: '#666' },
					ticks: { padding: 4, color: '#333', font: { size: 10.5 } },
					title: first ? { display: true, text: 'Max. correlation', color: '#333', font: { size: 10.5 }, padding: { top: 16, bottom: 0 } } : { display: false }
				}
			}
		}
	})
	text(cRegions[k], cLefts[k] + pw / 2, 412, { fontSize: '11px', fontWeight: 'bold', color: regionCol[cRegions[k]] })
}
cRegions.forEach((_, k) => scatterChart(k))
text('c', 7, 410, { fontSize: '21px', fontWeight: 'bold', color: '#000' })
text('Latency for maximal', 84, 535, { fontSize: '10.5px', color: '#333' })
text('correlation (ms)', 84, 547, { fontSize: '10.5px', color: '#333' })
</script>
</body>
</html>
